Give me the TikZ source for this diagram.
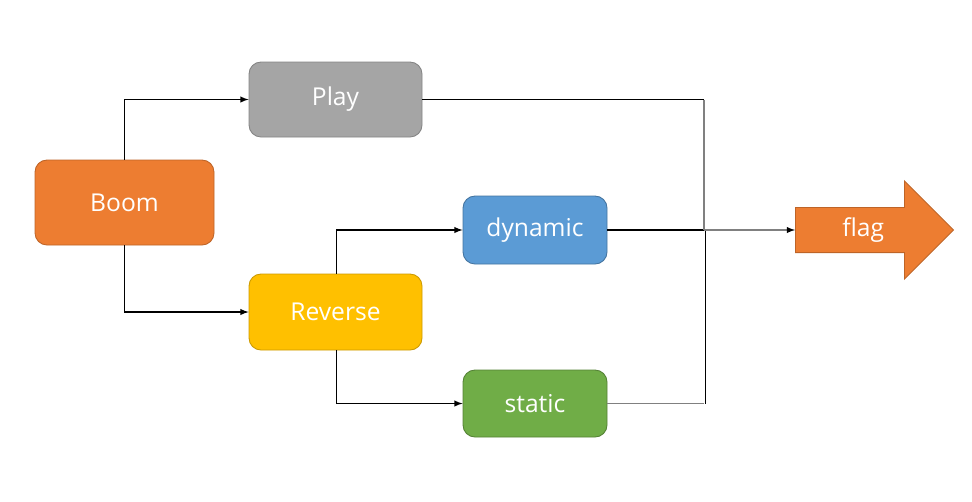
\documentclass[tikz,border=0pt]{standalone}
\usepackage{fontspec}
\setmainfont{Open Sans}
\usetikzlibrary{shapes.arrows}
\definecolor{boomc}{HTML}{ED7D31}
\definecolor{playc}{HTML}{A5A5A5}
\definecolor{revc}{HTML}{FFC000}
\definecolor{dync}{HTML}{5B9BD5}
\definecolor{statc}{HTML}{70AD47}
\tikzset{
  box/.style={rectangle,rounded corners=12*0.02cm,text=white,line width=0.5pt,
    font=\fontsize{14}{17}\selectfont,inner sep=0pt},
  conn/.style={line width=0.6pt},
}
\begin{document}
\begin{tikzpicture}[x=0.02cm,y=-0.02cm,>=latex]
 \useasboundingbox (0,0) rectangle (972,501);
 \node[box,fill=boomc,draw=boomc!80!black,minimum width=179*0.02cm,minimum height=85*0.02cm] (boom) at (124.5,202.5) {Boom};
 \node[box,fill=playc,draw=playc!80!black,minimum width=173*0.02cm,minimum height=75*0.02cm] (play) at (335.5,99.5) {Play};
 \node[box,fill=revc,draw=revc!80!black,minimum width=173*0.02cm,minimum height=76*0.02cm] (rev) at (335.5,312) {Reverse};
 \node[box,fill=dync,draw=dync!75!black,minimum width=144*0.02cm,minimum height=68*0.02cm] (dyn) at (535,230) {dynamic};
 \node[box,fill=statc,draw=statc!75!black,minimum width=144*0.02cm,minimum height=67*0.02cm] (stat) at (535,403.5) {static};
 \node[single arrow,fill=boomc,draw=boomc!80!black,line width=0.5pt,text=white,
   font=\fontsize{14}{17}\selectfont,inner sep=0pt,anchor=tail,
   minimum height=158*0.02cm,minimum width=98*0.02cm,
   single arrow head extend=15*0.02cm,single arrow head indent=0pt] (flag) at (795,230) {flag};
 \coordinate (jn) at (704,230);

 % Boom splits
 \draw[conn,->] (boom.north) |- (play.west);
 \draw[conn,->] (boom.south) |- (rev.west);
 % Reverse splits
 \draw[conn,->] ([xshift=0.5]rev.north) |- (dyn.west);
 \draw[conn,->] ([xshift=0.5]rev.south) |- (stat.west);
 % into flag
 \draw[conn] (dyn.east) -- (jn);
 \draw[conn] (play.east) -- (play.east -| jn);
 \draw[conn,gray] (play.east -| jn) -- (jn);
 \draw[conn,gray] (stat.east) -- (stat.east -| jn);
 \draw[conn] ([xshift=1]stat.east -| jn) -- ([xshift=1]jn);
 \draw[conn,gray,-{latex[black]}] (jn) -- (flag.tail);
\end{tikzpicture}
\end{document}
